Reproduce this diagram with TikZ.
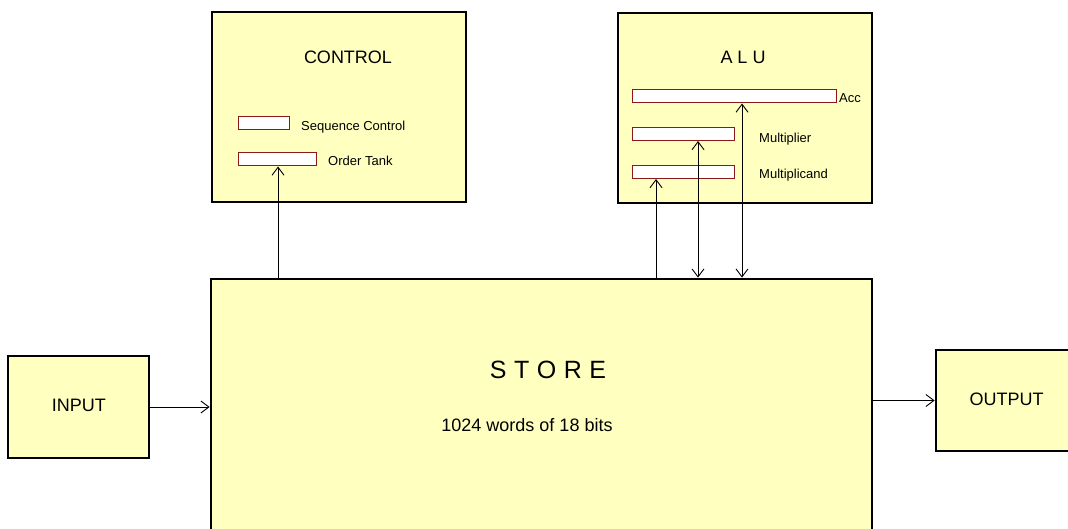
\documentclass[tikz,border=0pt]{standalone}
\usepackage{fontspec}
\setmainfont{Liberation Sans}
\usetikzlibrary{arrows.meta}
\definecolor{boxfill}{RGB}{255,255,192}
\definecolor{regred}{RGB}{140,25,25}
\tikzset{
  unit/.style={draw=black, line width=2.8pt, fill=boxfill, rectangle, inner sep=0pt},
  reg/.style={draw=regred, line width=1pt, fill=white, rectangle, inner sep=0pt, minimum height=13pt},
  lbl/.style={inner sep=0pt, anchor=base west, font=\fontsize{13}{15}\selectfont},
  big/.style={inner sep=0pt, anchor=base, font=\fontsize{18}{21}\selectfont},
  conn/.style={line width=0.9pt, -{Straight Barb[length=8pt,width=12pt,line width=0.9pt]}},
  dconn/.style={line width=0.9pt, {Straight Barb[length=8pt,width=12pt,line width=0.9pt]}-{Straight Barb[length=8pt,width=12pt,line width=0.9pt]}}
}
\begin{document}
\begin{tikzpicture}[x=1pt,y=-1pt]
\useasboundingbox (0,0) rectangle (1068,529);
\clip (0,0) rectangle (1068,529);
% units
\node[unit, minimum width=254pt, minimum height=190pt] (control) at (339,107) {};
\node[unit, minimum width=254pt, minimum height=190pt] (alu) at (745,108) {};
\node[unit, minimum width=661pt, minimum height=260pt] (store) at (541.5,409) {};
\node[unit, minimum width=141pt, minimum height=102pt] (input) at (78.5,407) {};
\node[unit, minimum width=140pt, minimum height=101pt] (output) at (1006,400.5) {};
% titles
\node[big] (controlt) at (348,63.3) {CONTROL};
\node[big] (alut) at (743,63.3) {A L U};
\node[inner sep=0pt, anchor=base, font=\fontsize{25}{29}\selectfont] (storet) at (548,378) {S\hspace{0.3em}T\hspace{0.3em}O\hspace{0.3em}R\hspace{0.3em}E};
\node[big] (storesub) at (527,431.7) {1024 words of 18 bits};
\node[big] (inputt) at (78.8,411.7) {INPUT};
\node[big] (outputt) at (1006.7,405.7) {OUTPUT};
% control registers
\node[reg, minimum width=51pt] (seq) at (263.5,123) {};
\node[reg, minimum width=78pt] (order) at (277,159.5) {};
\node[lbl] (seqt) at (301,130.5) {Sequence Control};
\node[lbl] (ordert) at (328,165.7) {Order Tank};
% alu registers
\node[reg, minimum width=204pt] (acc) at (734,96.5) {};
\node[reg, minimum width=102pt] (mult) at (683,134) {};
\node[reg, minimum width=102pt] (mcand) at (683,172) {};
\node[lbl] (acct) at (839,102.7) {Acc};
\node[lbl] (multt) at (759,142.7) {Multiplier};
\node[lbl] (mcandt) at (759,179) {Multiplicand};
% connectors
\coordinate (pOrder) at ([xshift=1pt]order.south);
\coordinate (pMcand) at ([xshift=-27pt]mcand.south);
\coordinate (pMult) at ([xshift=15pt]mult.south);
\coordinate (pAcc) at ([xshift=8pt]acc.south);
\draw[conn] (pOrder |- store.north) -- (pOrder);
\draw[conn] (pMcand |- store.north) -- (pMcand);
\draw[dconn] (pMult |- store.north) -- (pMult);
\draw[dconn] (pAcc |- store.north) -- (pAcc);
\draw[conn] (input.east) -- (input.east -| store.west);
\draw[conn] (output.west -| store.east) -- (output.west);
\end{tikzpicture}
\end{document}
